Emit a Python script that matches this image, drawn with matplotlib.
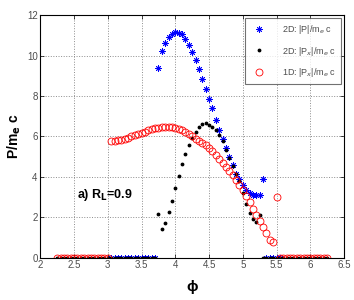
import numpy as np
import matplotlib
matplotlib.use("Agg")
import matplotlib.pyplot as plt

plt.rcParams["font.family"] = ["Liberation Sans", "DejaVu Sans"]

# 2D |P|/m_e c  (blue asterisks)
p2d_phi = [3.05, 3.10, 3.15, 3.20, 3.25, 3.30, 3.35, 3.40, 3.45, 3.50, 3.55, 3.60, 3.65, 3.70,
           3.75, 3.80, 3.85, 3.90, 3.95, 4.00, 4.05, 4.10, 4.15, 4.20, 4.25, 4.30, 4.35, 4.40,
           4.45, 4.50, 4.55, 4.60, 4.65, 4.70, 4.75, 4.80, 4.85, 4.90, 4.95, 5.00, 5.05, 5.10,
           5.15, 5.20, 5.25, 5.30, 5.35, 5.40, 5.45, 5.50, 5.55]
p2d_val = [0, 0, 0, 0, 0, 0, 0, 0, 0, 0, 0, 0, 0, 0,
           9.41, 10.22, 10.63, 10.91, 11.09, 11.16, 11.14, 11.06, 10.84, 10.53, 10.17, 9.80, 9.34, 8.86,
           8.37, 7.84, 7.40, 6.82, 6.34, 5.90, 5.41, 5.00, 4.59, 4.15, 3.88, 3.60, 3.35, 3.20,
           3.12, 3.08, 3.12, 3.88, 0, 0, 0, 0, 0]

# 2D |Px|/m_e c  (black dots)
px2d_phi = [2.25, 2.30, 2.35, 2.40, 2.45, 2.50, 2.55, 2.60, 2.65, 2.70, 2.75, 2.80, 2.85, 2.90,
            2.95, 3.00, 3.05, 3.10, 3.15, 3.20, 3.25, 3.30, 3.35, 3.40, 3.45, 3.50, 3.55, 3.60,
            3.65, 3.70, 3.75, 3.80, 3.85, 3.90, 3.95, 4.00, 4.05, 4.10, 4.15, 4.20, 4.25, 4.30,
            4.35, 4.40, 4.45, 4.50, 4.55, 4.60, 4.65, 4.70, 4.75, 4.80, 4.85, 4.90, 4.95, 5.00,
            5.05, 5.10, 5.15, 5.20, 5.25, 5.30, 5.35, 5.40, 5.45, 5.50, 5.55, 5.60, 5.65, 5.70,
            5.75, 5.80, 5.85, 5.90, 5.95, 6.00, 6.05, 6.10, 6.15, 6.20, 6.25]
px2d_val = [0, 0, 0, 0, 0, 0, 0, 0, 0, 0, 0, 0, 0, 0,
            0, 0, 0, 0, 0, 0, 0, 0, 0, 0, 0, 0, 0, 0,
            0, 0, 2.16, 1.42, 1.70, 2.25, 2.82, 3.45, 4.05, 4.62, 5.15, 5.59, 5.95, 6.24,
            6.49, 6.62, 6.65, 6.58, 6.45, 6.32, 6.05, 5.80, 5.35, 4.95, 4.55, 4.15, 3.80, 3.20,
            2.66, 2.20, 1.90, 1.78, 2.10, 0, 0, 0, 0, 0, 0, 0, 0, 0,
            0, 0, 0, 0, 0, 0, 0, 0, 0, 0, 0]

# 1D |Px|/m_e c  (red circles)
px1d_phi = [2.25, 2.30, 2.35, 2.40, 2.45, 2.50, 2.55, 2.60, 2.65, 2.70, 2.75, 2.80, 2.85, 2.90,
            2.95, 3.00, 3.05, 3.10, 3.15, 3.20, 3.25, 3.30, 3.35, 3.40, 3.45, 3.50, 3.55, 3.60,
            3.65, 3.70, 3.75, 3.80, 3.85, 3.90, 3.95, 4.00, 4.05, 4.10, 4.15, 4.20, 4.25, 4.30,
            4.35, 4.40, 4.45, 4.50, 4.55, 4.60, 4.65, 4.70, 4.75, 4.80, 4.85, 4.90, 4.95, 5.00,
            5.05, 5.10, 5.15, 5.20, 5.25, 5.30, 5.35, 5.40, 5.45, 5.50, 5.55, 5.60, 5.65, 5.70,
            5.75, 5.80, 5.85, 5.90, 5.95, 6.00, 6.05, 6.10, 6.15, 6.20, 6.25]
px1d_val = [0, 0, 0, 0, 0, 0, 0, 0, 0, 0, 0, 0, 0, 0,
            0, 0, 5.80, 5.80, 5.82, 5.85, 5.90, 5.95, 6.00, 6.06, 6.12, 6.18, 6.24, 6.30,
            6.35, 6.40, 6.43, 6.45, 6.47, 6.47, 6.45, 6.42, 6.38, 6.30, 6.20, 6.10, 6.00, 5.90,
            5.80, 5.70, 5.58, 5.45, 5.30, 5.10, 4.90, 4.70, 4.48, 4.28, 4.08, 3.85, 3.62, 3.35,
            3.05, 2.75, 2.42, 2.10, 1.80, 1.52, 1.20, 0.88, 0.80, 3.00, 0, 0, 0, 0,
            0, 0, 0, 0, 0, 0, 0, 0, 0, 0, 0]

xticks = np.arange(2, 6.51, 0.5)
xtick_labels = ["2", "2.5", "3", "3.5", "4", "4.5", "5", "5.5", "6", "6.5"]
yticks = [0, 2, 4, 6, 8, 10, 12]

fig = plt.figure(figsize=(3.54, 3.0), dpi=100)
ax = fig.add_axes([0.114, 0.141, 0.858, 0.808])

ax.plot(p2d_phi, p2d_val, linestyle="none", marker=(8, 2, 0), markersize=4.5,
        color="blue", markeredgewidth=0.6, label="2D: |P|/m$_e$ c")
ax.plot(px2d_phi, px2d_val, linestyle="none", marker=".", markersize=3.5,
        color="black", label="2D: |P$_x$|/m$_e$ c")
ax.plot(px1d_phi, px1d_val, linestyle="none", marker="o", markersize=5,
        markerfacecolor="none", markeredgecolor="red", markeredgewidth=0.6,
        label="1D: |P$_x$|/m$_e$ c")

ax.set_xlim(2, 6.5)
ax.set_ylim(0, 12)
ax.set_xticks(xticks)
ax.set_xticklabels(xtick_labels)
ax.set_yticks(yticks)
ax.grid(True, linestyle=":", color="0.55", linewidth=0.7)
ax.tick_params(direction="in", length=3, width=0.5, labelsize=7,
               labelcolor="0.3", pad=2, top=True, right=True)
for s in ax.spines.values():
    s.set_linewidth(0.8)

ax.set_ylabel("P/m$_\\mathbf{e}$ c", fontsize=10, fontweight="bold", labelpad=3)
ax.set_xlabel("ϕ", fontsize=11, fontweight="bold", labelpad=7)
ax.text(2.54, 3.1, "a) R$_\\mathbf{L}$=0.9", fontsize=9, fontweight="bold", va="center")

leg = ax.legend(loc="upper right", fontsize=6.5, frameon=True, fancybox=False,
                edgecolor="0.3", borderaxespad=0.3, handletextpad=1.5,
                labelspacing=0.9, borderpad=0.6)
leg.get_frame().set_linewidth(0.8)
for t in leg.get_texts():
    t.set_color("0.3")

fig.savefig("out.png", dpi=100)
